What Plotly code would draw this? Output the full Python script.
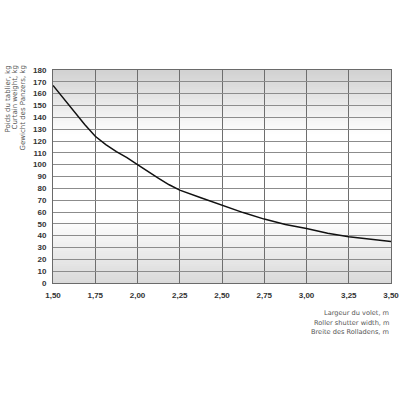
import plotly.graph_objects as go

# curtain width (m) vs curtain weight (kg)
width_m = [1.50, 1.5625, 1.625, 1.6875, 1.75, 1.8125, 1.875, 1.9375, 2.00,
           2.0625, 2.125, 2.1875, 2.25, 2.375, 2.50, 2.625, 2.75, 2.875,
           3.00, 3.125, 3.25, 3.375, 3.50]
weight_kg = [167, 156, 145, 134, 124, 117, 111, 106, 100,
             94, 88.5, 83, 78.5, 72, 65.5, 59.5, 54, 49.5,
             46, 42, 39, 36.7, 35]

x_ticks = [1.50, 1.75, 2.00, 2.25, 2.50, 2.75, 3.00, 3.25, 3.50]
x_tick_labels = ["1,50", "1,75", "2,00", "2,25", "2,50", "2,75", "3,00", "3,25", "3,50"]
y_ticks = list(range(0, 181, 10))

y_title_lines = ["Poids du tablier, kg", "Curtain weight, kg", "Gewicht des Panzers, kg"]
x_title_lines = ["Largeur du volet, m", "Roller shutter width, m", "Breite des Rolladens, m"]


def grey_at(t):
    # t = 0 at bottom of plot, 1 at top; grey at both ends, white in the middle
    if t > 0.70:
        k = (t - 0.70) / 0.30
        v = 255 - 46 * k
    elif t < 0.30:
        k = (0.30 - t) / 0.30
        v = 255 - 38 * k
    else:
        v = 255
    v = int(round(v))
    return "rgb(%d,%d,%d)" % (v, v, v)


n_strips = 100
shapes = []
for i in range(n_strips):
    y0 = i / n_strips
    y1 = (i + 1) / n_strips
    shapes.append(dict(type="rect", xref="x domain", yref="y domain",
                       x0=0, x1=1, y0=y0, y1=y1 + 0.003,
                       fillcolor=grey_at((y0 + y1) / 2), line_width=0,
                       layer="below"))

fig = go.Figure()
fig.add_trace(go.Scatter(x=width_m, y=weight_kg, mode="lines",
                         line=dict(color="#111111", width=1.5),
                         hoverinfo="x+y"))

fig.update_layout(
    width=400, height=400,
    margin=dict(l=53, r=9, t=70, b=117, autoexpand=False),
    paper_bgcolor="white",
    plot_bgcolor="rgba(0,0,0,0)",
    showlegend=False,
    shapes=shapes,
    font=dict(family="Liberation Sans", color="#333333"),
)
fig.update_xaxes(range=[1.5, 3.5], tickvals=x_ticks, ticktext=x_tick_labels,
                 showgrid=True, gridcolor="#6e6e6e", gridwidth=1,
                 showline=True, linecolor="#6a6a6a", linewidth=1, mirror=True,
                 zeroline=False, ticks="", ticklabelstandoff=4, automargin=False,
                 ticklabeloverflow="allow",
                 tickfont=dict(family="Liberation Sans", size=8, color="#333333", weight="bold"))
fig.update_yaxes(range=[0, 180], tickvals=y_ticks,
                 showgrid=True, gridcolor="#8c8c8c", gridwidth=1,
                 showline=True, linecolor="#6a6a6a", linewidth=1, mirror=True,
                 zeroline=False, ticks="", ticklabelstandoff=4, automargin=False,
                 tickfont=dict(family="Liberation Sans", size=8, color="#333333", weight="bold"))

# rotated y title, one annotation per line, ends aligned at the top
for i, line in enumerate(y_title_lines):
    fig.add_annotation(text=line, xref="paper", yref="paper",
                       x=(7 + 7.5 * i - 53) / 338, y=(283 - 64) / 213,
                       xanchor="center", yanchor="top",
                       textangle=-90, showarrow=False,
                       font=dict(family="DejaVu Sans", size=7, color="#555555"))

# x title, right aligned under the right end of the axis
for i, line in enumerate(x_title_lines):
    fig.add_annotation(text=line, xref="paper", yref="paper",
                       x=1.0, y=(-30 - 9.7 * i) / 213,
                       xanchor="right", yanchor="middle", showarrow=False,
                       font=dict(family="DejaVu Sans", size=6.6, color="#555555"))

# drop the default 8px page margin so the figure sits at the window's corner
fig.write_html("out.html", config={"displayModeBar": False},
               post_script="document.body.style.margin = '0';")
